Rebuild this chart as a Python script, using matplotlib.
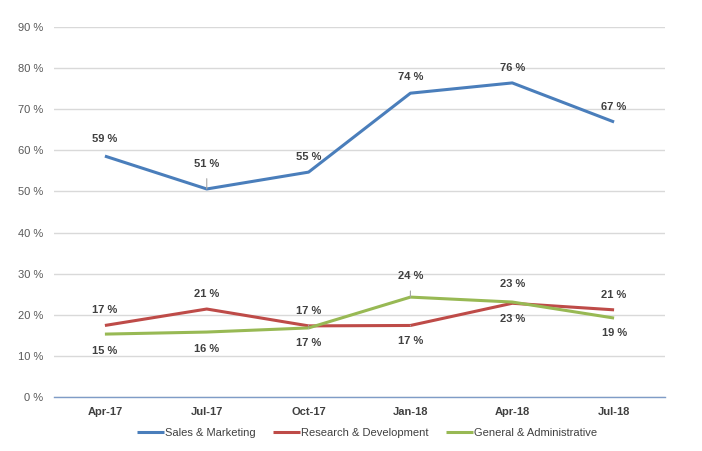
import matplotlib
matplotlib.use("Agg")
import matplotlib.pyplot as plt

categories = ["Apr-17", "Jul-17", "Oct-17", "Jan-18", "Apr-18", "Jul-18"]
sales = [58.6, 50.6, 54.7, 73.9, 76.4, 66.9]
rnd = [17.4, 21.4, 17.3, 17.4, 22.8, 21.2]
gna = [15.3, 15.8, 16.8, 24.3, 23.1, 19.2]
yticks = [0, 10, 20, 30, 40, 50, 60, 70, 80, 90]

# label placement: (offset in points, leader line?)
sales_off = [(12, False), (18, True), (11, False), (12, False), (11, False), (11, False)]
rnd_off = [(11, False), (11, False), (11, True), (-11, True), (14, False), (11, False)]
gna_off = [(-12, False), (-12, False), (-11, True), (15, True), (-12, False), (-11, False)]

plt.rcParams['font.family'] = ['Liberation Sans', 'DejaVu Sans']
fig = plt.figure(figsize=(7.02, 4.51), dpi=100)
ax = fig.add_axes([54/702, 1-397/451, (665-54)/702, (397-27)/451])

x = list(range(len(categories)))
series = [
    ("Sales & Marketing", sales, "#4a7ebb", sales_off),
    ("Research & Development", rnd, "#be4b48", rnd_off),
    ("General & Administrative", gna, "#98b954", gna_off),
]
for name, vals, col, offs in series:
    ax.plot(x, vals, color=col, lw=2.2, label=name, solid_capstyle='butt', zorder=3)
    for xi, v, (off, lead) in zip(x, vals, offs):
        txt = f"{round(v):.0f} %"
        kw = dict(ha='center', va='center', fontsize=8, fontweight='bold', color='#404040',
                  textcoords='offset points', xytext=(0, off))
        if lead:
            kw['arrowprops'] = dict(arrowstyle='-', color='#a6a6a6', lw=0.8, shrinkA=5, shrinkB=0)
        ax.annotate(txt, (xi, v), zorder=4, **kw)

ax.set_xlim(-0.5, len(categories) - 0.5)
ax.set_ylim(0, 90)
ax.set_yticks(yticks)
ax.set_yticklabels([f"{t} %" for t in yticks], fontsize=8, color='#595959')
ax.set_xticks(x)
ax.set_xticklabels(categories, fontsize=8, fontweight='bold', color='#404040')
ax.tick_params(axis='both', length=0, pad=7)
ax.tick_params(axis='y', pad=8)
ax.grid(axis='y', color='#d9d9d9', lw=1)
ax.set_axisbelow(True)
for s in ['top', 'right', 'left']:
    ax.spines[s].set_visible(False)
ax.spines['bottom'].set_color('#7f9cc7')
ax.spines['bottom'].set_linewidth(1)

fig.legend(loc='center', bbox_to_anchor=(367/702, 1-433/451), ncol=3, frameon=False,
           fontsize=8, handlelength=2.4, handletextpad=0.1, columnspacing=1.6,
           labelcolor='#404040')

fig.savefig("out.png", dpi=100, facecolor='white')
